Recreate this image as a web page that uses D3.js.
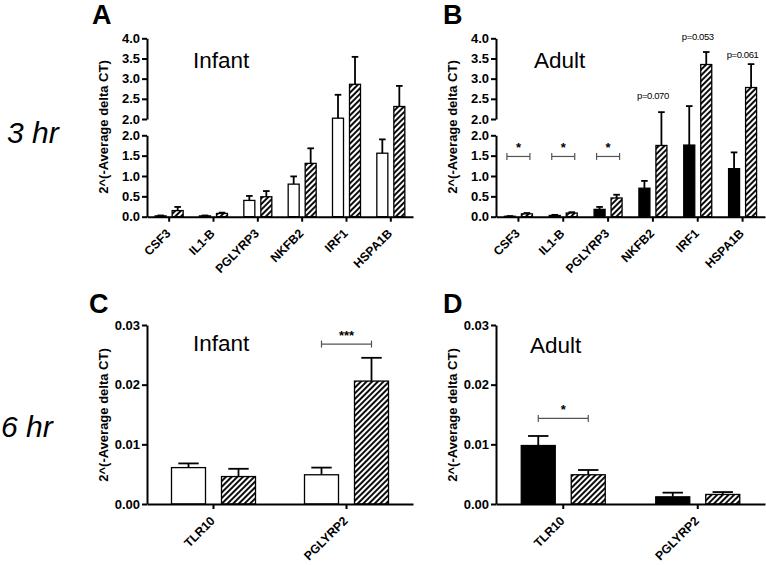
<!DOCTYPE html>
<html>
<head>
<meta charset="utf-8">
<script src="https://cdn.jsdelivr.net/npm/d3@7"></script>
<style>
  body { margin: 0; background: #fff; }
  text { font-family: "Liberation Sans", Arial, sans-serif; }
</style>
</head>
<body>
<div id="chart"></div>
<script>
// 3 hr genes
var genes3 = ["CSF3", "IL1-B", "PGLYRP3", "NKFB2", "IRF1", "HSPA1B"];
// 6 hr genes
var genes6 = ["TLR10", "PGLYRP2"];

// Panel A (infant, 3 hr): open bars and hatched bars, mean and SEM
var infant3Open = [0.02, 0.02, 0.40, 0.80, 2.02, 1.56];
var infant3OpenSem = [0.01, 0.01, 0.11, 0.19, 0.58, 0.34];
var infant3Hatch = [0.15, 0.08, 0.49, 1.31, 2.86, 2.31];
var infant3HatchSem = [0.09, 0.02, 0.14, 0.37, 0.68, 0.51];

// Panel B (adult, 3 hr): filled bars and hatched bars
var adult3Solid = [0.01, 0.03, 0.18, 0.70, 1.76, 1.18];
var adult3SolidSem = [0.005, 0.015, 0.06, 0.18, 0.56, 0.40];
var adult3Hatch = [0.07, 0.09, 0.46, 1.75, 3.35, 2.78];
var adult3HatchSem = [0.02, 0.02, 0.08, 0.42, 0.31, 0.58];

// Panel C (infant, 6 hr)
var infant6Open = [0.0061, 0.0049];
var infant6OpenSem = [0.0007, 0.0012];
var infant6Hatch = [0.0046, 0.0206];
var infant6HatchSem = [0.0013, 0.0039];

// Panel D (adult, 6 hr)
var adult6Solid = [0.0098, 0.0012];
var adult6SolidSem = [0.0016, 0.0007];
var adult6Hatch = [0.0049, 0.0016];
var adult6HatchSem = [0.0008, 0.0004];

// tick labels
var ticksLow = [0, 0.5, 1.0, 1.5, 2.0];
var ticksHigh = [2.0, 2.5, 3.0, 3.5, 4.0];
var ticks6 = [0, 0.01, 0.02, 0.03];

// significance marks: [gene index, height, label]
var sigB = [[0, 1.48, "*"], [1, 1.48, "*"], [2, 1.48, "*"]];
var sigC = [[1, 0.0268, "***"]];
var sigD = [[0, 0.01435, "*"]];
// p-value labels on B: [gene index, height, label]
var pB = [[3, 2.50, "p=0.070"], [4, 3.96, "p=0.053"], [5, 3.52, "p=0.061"]];

var yTitle = "2^(-Average delta CT)";

var W = 766, H = 565;
var svg = d3.select("#chart").append("svg")
  .attr("width", W).attr("height", H);

// hatch pattern
var defs = svg.append("defs");
var pat = defs.append("pattern")
  .attr("id", "hatch")
  .attr("patternUnits", "userSpaceOnUse")
  .attr("width", 4).attr("height", 4)
  .attr("patternTransform", "rotate(45)");
pat.append("rect").attr("width", 4).attr("height", 4).attr("fill", "#fff");
pat.append("line").attr("x1", 1).attr("y1", 0).attr("x2", 1).attr("y2", 4)
  .attr("stroke", "#000").attr("stroke-width", 1.9);

// broken axis scale for 3 hr panels
var lowScale = d3.scaleLinear().domain([0, 2]).range([216.7, 135.3]);
var highScale = d3.scaleLinear().domain([2, 4]).range([119, 38.3]);
var yBroken = function(v) { return v <= 2.0 ? lowScale(v) : highScale(v); };

var y6 = d3.scaleLinear().domain([0, 0.03]).range([504, 325]);

function styleAxis(g) {
  g.select(".domain").attr("stroke-width", 2);
  g.selectAll(".tick line").attr("stroke-width", 2);
  g.selectAll(".tick text")
    .style("font-size", "13px").style("font-weight", "bold").attr("fill", "#000");
}

function drawPanel(p) {
  var x = d3.scaleBand().domain(p.genes).range(p.xRange);
  var sub = d3.scaleBand().domain(["a", "b"]).range([-p.half, p.half]).paddingInner(p.pad);
  var x0 = p.xRange[0];

  // y axes
  p.yAxes.forEach(function(ya) {
    var g = svg.append("g")
      .attr("transform", "translate(" + x0 + ",0)")
      .call(d3.axisLeft(ya.scale).tickValues(ya.ticks).tickFormat(d3.format(ya.fmt))
        .tickSize(5).tickSizeOuter(0).tickPadding(2));
    styleAxis(g);
  });

  var yf = p.y;
  var groups = [
    { key: "a", vals: p.v1, sem: p.s1, fill: p.fill1 },
    { key: "b", vals: p.v2, sem: p.s2, fill: "url(#hatch)" }
  ];

  groups.forEach(function(grp) {
    var rows = p.genes.map(function(gname, i) {
      return { gene: gname, v: grp.vals[i], s: grp.sem[i] };
    });
    // error bars (upper only)
    svg.selectAll(null).data(rows).enter().append("line")
      .attr("x1", function(d) { return x(d.gene) + x.bandwidth() / 2 + sub(grp.key) + sub.bandwidth() / 2; })
      .attr("x2", function(d) { return x(d.gene) + x.bandwidth() / 2 + sub(grp.key) + sub.bandwidth() / 2; })
      .attr("y1", function(d) { return yf(d.v); })
      .attr("y2", function(d) { return yf(d.v + d.s); })
      .attr("stroke", "#000").attr("stroke-width", 1.8);
    svg.selectAll(null).data(rows).enter().append("line")
      .attr("x1", function(d) { return x(d.gene) + x.bandwidth() / 2 + sub(grp.key) + sub.bandwidth() * 0.2; })
      .attr("x2", function(d) { return x(d.gene) + x.bandwidth() / 2 + sub(grp.key) + sub.bandwidth() * 0.8; })
      .attr("y1", function(d) { return yf(d.v + d.s); })
      .attr("y2", function(d) { return yf(d.v + d.s); })
      .attr("stroke", "#000").attr("stroke-width", 1.8);
    // bars
    svg.selectAll(null).data(rows).enter().append("rect")
      .attr("x", function(d) { return x(d.gene) + x.bandwidth() / 2 + sub(grp.key); })
      .attr("width", sub.bandwidth())
      .attr("y", function(d) { return yf(d.v); })
      .attr("height", function(d) { return Math.max(0, yf(0) - yf(d.v)); })
      .attr("fill", grp.fill)
      .attr("stroke", "#000").attr("stroke-width", 1.3);
  });

  // x axis
  var gx = svg.append("g")
    .attr("transform", "translate(0," + yf(0) + ")")
    .call(d3.axisBottom(x).tickSize(5).tickSizeOuter(0));
  styleAxis(gx);
  gx.selectAll(".tick text")
    .style("font-size", "12.2px")
    .attr("text-anchor", "end")
    .attr("x", -11).attr("y", 13.9)
    .attr("dx", 0).attr("dy", 0)
    .attr("transform", "rotate(-45)");

  // y title
  svg.append("text")
    .attr("transform", "translate(" + p.titleX + "," + p.titleY + ") rotate(-90)")
    .attr("text-anchor", "middle")
    .style("font-size", "13px").style("font-weight", "bold")
    .text(yTitle);

  // group name
  svg.append("text")
    .attr("x", p.nameX).attr("y", p.nameY)
    .style("font-size", "22.5px")
    .text(p.name);

  // panel letter
  svg.append("text")
    .attr("x", p.letterX).attr("y", p.letterY)
    .style("font-size", "27px").style("font-weight", "bold")
    .text(p.letter);

  // significance brackets
  (p.sig || []).forEach(function(s) {
    var c = x(p.genes[s[0]]) + x.bandwidth() / 2;
    var xa = c + sub("a") + sub.bandwidth() / 2 - p.bw;
    var xb = c + sub("b") + sub.bandwidth() / 2 + p.bw;
    var yy = yf(s[1]);
    var g = svg.append("g").attr("stroke", "#555").attr("stroke-width", 1.2);
    g.append("line").attr("x1", xa).attr("x2", xb).attr("y1", yy).attr("y2", yy);
    g.append("line").attr("x1", xa).attr("x2", xa).attr("y1", yy - 3.5).attr("y2", yy + 3.5);
    g.append("line").attr("x1", xb).attr("x2", xb).attr("y1", yy - 3.5).attr("y2", yy + 3.5);
    svg.append("text")
      .attr("x", c).attr("y", yy - 4)
      .attr("text-anchor", "middle")
      .style("font-size", "13px").style("font-weight", "bold")
      .text(s[2]);
  });

  (p.pvals || []).forEach(function(s) {
    svg.append("text")
      .attr("x", x(p.genes[s[0]]) + x.bandwidth() / 2)
      .attr("y", yf(s[1]))
      .attr("text-anchor", "middle")
      .style("font-family", "'Liberation Sans Narrow', 'Liberation Sans', sans-serif")
      .style("font-size", "9.5px")
      .style("letter-spacing", "-0.4px")
      .text(s[2]);
  });
}

var brokenAxes = [
  { scale: lowScale, ticks: ticksLow, fmt: ".1f" },
  { scale: highScale, ticks: ticksHigh, fmt: ".1f" }
];
var axes6 = [{ scale: y6, ticks: ticks6, fmt: ".2f" }];

drawPanel({
  genes: genes3, xRange: [147, 413], half: 14, pad: 0.353, y: yBroken, yAxes: brokenAxes,
  v1: infant3Open, s1: infant3OpenSem, v2: infant3Hatch, s2: infant3HatchSem, fill1: "#fff",
  titleX: 108, titleY: 127, name: "Infant", nameX: 193, nameY: 68,
  letter: "A", letterX: 92, letterY: 24, bw: 3
});
drawPanel({
  genes: genes3, xRange: [496, 765], half: 14, pad: 0.353, y: yBroken, yAxes: brokenAxes,
  v1: adult3Solid, s1: adult3SolidSem, v2: adult3Hatch, s2: adult3HatchSem, fill1: "#000",
  titleX: 457, titleY: 127, name: "Adult", nameX: 534, nameY: 68,
  letter: "B", letterX: 443, letterY: 24, sig: sigB, pvals: pB, bw: 3
});
drawPanel({
  genes: genes6, xRange: [147, 413], half: 42, pad: 0.32, y: y6, yAxes: axes6,
  v1: infant6Open, s1: infant6OpenSem, v2: infant6Hatch, s2: infant6HatchSem, fill1: "#fff",
  titleX: 108, titleY: 415, name: "Infant", nameX: 193, nameY: 351,
  letter: "C", letterX: 89, letterY: 313, sig: sigC, bw: 0
});
drawPanel({
  genes: genes6, xRange: [496, 765], half: 42, pad: 0.32, y: y6, yAxes: axes6,
  v1: adult6Solid, s1: adult6SolidSem, v2: adult6Hatch, s2: adult6HatchSem, fill1: "#000",
  titleX: 457, titleY: 415, name: "Adult", nameX: 530, nameY: 353,
  letter: "D", letterX: 443, letterY: 313, sig: sigD, bw: 0
});

// row labels
svg.append("text").attr("x", 7).attr("y", 143)
  .style("font-size", "30px").style("font-style", "italic").text("3 hr");
svg.append("text").attr("x", 1).attr("y", 437)
  .style("font-size", "30px").style("font-style", "italic").text("6 hr");
</script>
</body>
</html>
